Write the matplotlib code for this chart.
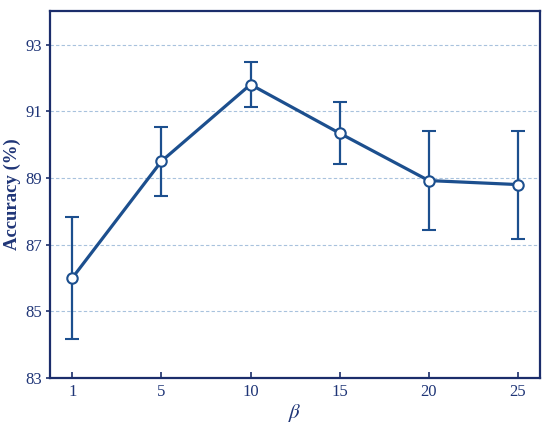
import numpy as np
import matplotlib
matplotlib.use('Agg')
import matplotlib.pyplot as plt

#データ
beta = ['1', '5', '10', '15', '20', '25']
acc = [86.0, 89.5, 91.8, 90.34, 88.92, 88.8]
err_low = [1.83, 1.04, 0.67, 0.92, 1.49, 1.62]
err_high = [1.83, 1.02, 0.69, 0.94, 1.50, 1.61]
yticks = [83, 85, 87, 89, 91, 93]

line_c = '#1c4f8e'
spine_c = '#1b2d6b'
text_c = '#1f3577'

plt.rcParams['font.family'] = ['Liberation Serif', 'DejaVu Serif']
plt.rcParams['mathtext.fontset'] = 'stix'

fig = plt.figure(figsize=(5.5, 4.3), dpi=100)
ax = fig.add_axes([0.091, 0.121, 0.891, 0.853])

x = np.arange(len(beta))
ax.errorbar(x, acc, yerr=[err_low, err_high], color=line_c, lw=2.3,
            elinewidth=1.6, capsize=5, capthick=1.6,
            marker='o', ms=7.5, mfc='white', mec=line_c, mew=1.5, zorder=3)

#グリッド
for t in yticks:
    ax.axhline(t, color='#a8c2dd', lw=0.8, ls=(0, (3, 2)), zorder=1)

ax.set_xlim(-0.25, 5.25)
ax.set_ylim(83, 94)
ax.set_xticks(x)
ax.set_xticklabels(beta)
ax.set_yticks(yticks)

for s in ax.spines.values():
    s.set_color(spine_c)
    s.set_linewidth(1.6)
ax.tick_params(colors=spine_c, labelcolor=text_c, labelsize=12, width=1.2)
ax.tick_params(axis='y', direction='out', length=3, pad=3)
ax.tick_params(axis='x', direction='in', length=4, pad=4)

ax.set_xlabel(r'$\beta$', fontsize=15, color=text_c, labelpad=2)
ax.set_ylabel('Accuracy (%)', fontsize=13.5, fontweight='bold', color=text_c, labelpad=3)

fig.savefig('out.png', dpi=100)
